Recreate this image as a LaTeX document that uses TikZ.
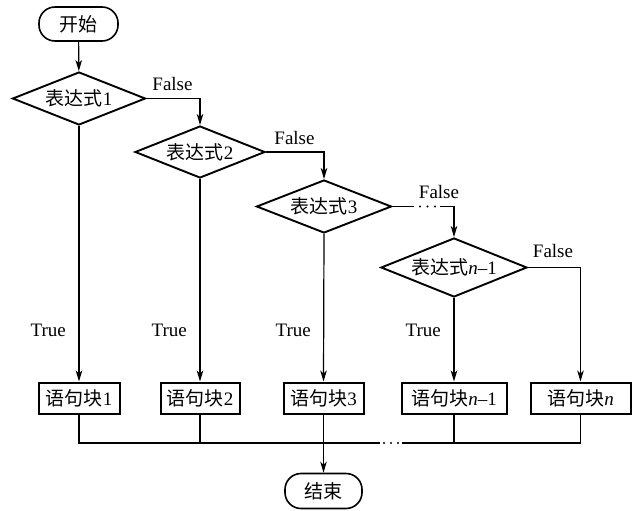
\documentclass[tikz,border=0pt]{standalone}
\usepackage{fontspec}
\setmainfont{Liberation Serif}
\newfontfamily\cjk{Noto Sans CJK SC}
\usetikzlibrary{shapes.geometric,arrows.meta,calc}
\begin{document}
\begin{tikzpicture}[x=1pt,y=-1pt,
  every node/.style={font=\fontsize{19}{21}\selectfont},
  lab/.style={font=\fontsize{19}{21}\selectfont, inner sep=0pt},
  term/.style={draw, line width=1.6pt, rounded corners=16pt, minimum width=79pt, minimum height=34pt, inner sep=0pt},
  dia/.style={draw, line width=1.9pt, diamond, aspect=2.5, inner sep=0pt},
  blk/.style={draw, line width=2pt, minimum height=31pt, inner sep=0pt},
  conn/.style={line width=1.2pt},
  arr/.style={line width=1.2pt, -{Stealth[length=11pt,width=6.5pt,inset=3pt]}},
  dot/.style={fill=black, draw=none}
]
\useasboundingbox (0,0) rectangle (632,511);

% terminals
\node[term] (start) at (78.5,24) {\cjk 开始};
\node[term, minimum width=77pt, minimum height=35pt] (end) at (323.5,491) {\cjk 结束};

% decisions
\node[dia, minimum width=133pt, minimum height=53pt] (d1) at (79,98.5) {{\cjk 表达式}1};
\node[dia, minimum width=130pt, minimum height=52pt] (d2) at (200,152) {{\cjk 表达式}2};
\node[dia, minimum width=135pt, minimum height=53pt] (d3) at (324,206.5) {{\cjk 表达式}3};
\node[dia, minimum width=146pt, minimum height=59pt] (dn1) at (454,267.5) {{\cjk 表达式}\textit{n}--1};

% blocks
\node[blk, minimum width=81pt] (b1) at (79,398) {{\cjk 语句块}1};
\node[blk, minimum width=79pt] (b2) at (200,398) {{\cjk 语句块}2};
\node[blk, minimum width=80pt] (b3) at (323.5,398) {{\cjk 语句块}3};
\node[blk, minimum width=105pt] (bn1) at (454,398) {{\cjk 语句块}\textit{n}--1};
\node[blk, minimum width=100pt] (bn) at (580.5,398) {{\cjk 语句块}\textit{n}};

% labels
\node[lab] (f1) at (172.5,84) {False};
\node[lab] (f2) at (294.5,138) {False};
\node[lab] (f3) at (439,192) {False};
\node[lab] (f4) at (553,251) {False};
\node[lab, anchor=east] (t1) at (66,330) {True};
\node[lab, anchor=east] (t2) at (187,330) {True};
\node[lab, anchor=east] (t3) at (311,330) {True};
\node[lab, anchor=east] (t4) at (441,330) {True};

% helper coordinates
\coordinate (g1) at (414,206.5);
\coordinate (g2) at (440,206.5);
\coordinate (mline) at (0,443);
\coordinate (h1) at (380,443);
\coordinate (h2) at (402,443);

% connectors
\draw[arr] (start) -- (d1);
\draw[arr] (d1.east) -| (d2.north);
\draw[arr] (d2.east) -| (d3.north);
\draw[conn] (d3.east) -- (g1);
\draw[arr] (g2) -| (dn1.north);
\draw[arr] (dn1.east) -| (bn.north);

\draw[arr] (d1.south) -- (b1.north);
\draw[arr] (d2.south) -- (b2.north);
\draw[arr] (d3.south) -- (b3.north);
\draw[arr] (dn1.south) -- (bn1.north);

\draw[conn] (b1.south) -- (b1.south |- mline) -- (h1);
\draw[conn] (h2) -- (bn.south |- mline) -- (bn.south);
\draw[conn] (b2.south) -- (b2.south |- mline);
\draw[conn] (bn1.south) -- (bn1.south |- mline);
\draw[arr] (b3.south) -- (end);

% ellipsis dots
\foreach \x in {420,427.5,435} \fill[dot] (\x,206.5) circle (1.1pt);
\foreach \x in {384,391,398} \fill[dot] (\x,443) circle (1.1pt);
\end{tikzpicture}
\end{document}
